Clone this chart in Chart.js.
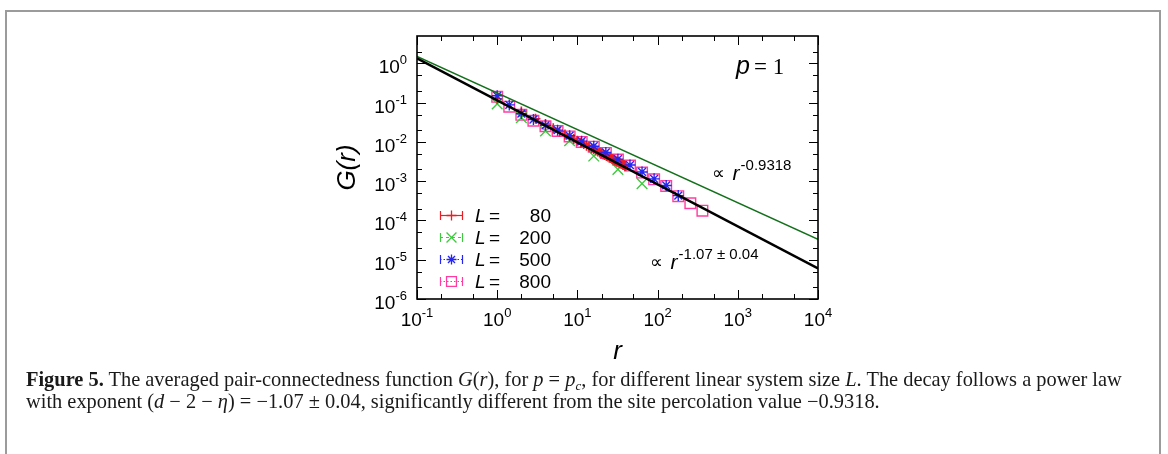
<!DOCTYPE html>
<html><head><meta charset="utf-8">
<script src="https://cdn.jsdelivr.net/npm/chart.js@4.4.0/dist/chart.umd.min.js"></script>
<style>
html,body{margin:0;padding:0;background:#fff;width:1168px;height:454px;overflow:hidden;}
#frame{position:absolute;left:5px;top:10px;width:1152px;height:470px;border:2px solid #9b9b9b;border-bottom:none;}
#wrap{position:absolute;left:0;top:0;width:1168px;height:370px;}
#cap{position:absolute;left:26px;top:368px;white-space:nowrap;font-family:"Liberation Serif",serif;font-size:20.4px;line-height:22px;color:#1a1a1a;}
#cap i{font-style:italic;}
#cap .sb{font-size:13px;position:relative;top:4px;line-height:0;}
</style></head><body>
<div id="frame"></div>
<div id="wrap"><canvas id="c"></canvas></div>
<div id="cap"><b>Figure 5.</b> The averaged pair-connectedness function <i>G</i>(<i>r</i>), for <i>p</i> = <i>p<span class="sb">c</span></i>, for different linear system size <i>L</i>. The decay follows a power law<br>with exponent (<i>d</i> − 2 − <i>η</i>) = −1.07 ± 0.04, significantly different from the site percolation value −0.9318.</div>
<script>
// ---- data ----
const rSteps = [1, 1.414, 2, 2.828, 4, 5.657, 8, 11.31, 16, 22.63, 32, 45.25, 64, 90.51, 128, 181.0, 256, 362.0];
const gL800 = [0.141, 0.0794, 0.0490, 0.0347, 0.0251, 0.0191, 0.0138, 0.0100, 0.00759, 0.00525, 0.00355, 0.00251, 0.00166, 0.00112, 0.000759, 0.000417, 0.000275, 0.000178];
const gL500 = [0.150, 0.0880, 0.0525, 0.0372, 0.0265, 0.0200, 0.0145, 0.0105, 0.0078, 0.0054, 0.00365, 0.00258, 0.00172, 0.00115, 0.00078, 0.00043];
const rL200 = [1, 2, 4, 8, 16, 32, 64];
const gL200 = [0.0933, 0.0417, 0.0191, 0.0107, 0.00437, 0.0020, 0.00087];
const rL80 = [1,2,3,4,5,6,7,8,9,10,11,12,13,14,15,16,17,18,19,20,21,22,23,24,25,26,27,28,29,30,31,32,33,34,35,36,37,38,39,40];
const gL80 = [0.126, 0.060, 0.0389, 0.0288, 0.0224, 0.0186, 0.0156, 0.0137, 0.0119, 0.0108, 0.00960, 0.00885, 0.00805, 0.00752, 0.00690, 0.00652, 0.00603, 0.00575, 0.00536, 0.00514, 0.00480, 0.00465, 0.00436, 0.00424, 0.00398, 0.00389, 0.00366, 0.00360, 0.00339, 0.00334, 0.00315, 0.00312, 0.00295, 0.00293, 0.00277, 0.00275, 0.00260, 0.00259, 0.00246, 0.00245];
const fitR = [0.1, 10000];
const fitFound = [1.35, 6.0e-6];     // ∝ r^-1.07
const fitSite = [1.50, 3.3e-5];      // ∝ r^-0.9318
const legendLabels = ['80', '200', '500', '800'];
const xMajor = [0.1, 1, 10, 100, 1000, 10000];
const xMajorExp = ['-1', '0', '1', '2', '3', '4'];
const xMinor = [0.2, 0.5, 2, 5, 20, 50, 200, 500, 2000, 5000];
const yMajor = [1e-6, 1e-5, 1e-4, 1e-3, 1e-2, 1e-1, 1];
const yMajorExp = ['-6', '-5', '-4', '-3', '-2', '-1', '0'];
const yMinor = [2e-6, 5e-6, 2e-5, 5e-5, 2e-4, 5e-4, 2e-3, 5e-3, 2e-2, 5e-2, 0.2, 0.5, 2];

const C_RED = '#ee1c25', C_GREEN = '#3fc93f', C_BLUE = '#2626f0', C_PINK = '#ff3ca0', C_DKGREEN = '#12701a';
const pts = (xs, ys) => ys.map((v, i) => ({x: xs[i], y: v}));

const SANS = '"Liberation Sans", Arial, sans-serif';

function drawMarker(ctx, style, color, radius, x, y, bw) {
  ctx.save();
  ctx.strokeStyle = color; ctx.fillStyle = 'rgba(0,0,0,0)'; ctx.lineWidth = bw;
  Chart.helpers.drawPoint(ctx, {pointStyle: style, radius: radius, rotation: 0, borderWidth: bw}, x, y);
  ctx.restore();
}

const deco = {
  id: 'deco',
  afterDraw(chart) {
    const ctx = chart.ctx, a = chart.chartArea, xs = chart.scales.x, ys = chart.scales.y;
    ctx.save();
    // frame
    ctx.strokeStyle = '#000'; ctx.lineWidth = 1.6;
    ctx.strokeRect(a.left, a.top, a.right - a.left, a.bottom - a.top);
    // ticks (inward, mirrored)
    ctx.lineWidth = 1;
    const tx = (v, len) => { const p = Math.round(xs.getPixelForValue(v)) + 0.5;
      ctx.beginPath(); ctx.moveTo(p, a.bottom); ctx.lineTo(p, a.bottom - len);
      ctx.moveTo(p, a.top); ctx.lineTo(p, a.top + len); ctx.stroke(); };
    const ty = (v, len) => { const p = Math.round(ys.getPixelForValue(v)) + 0.5;
      ctx.beginPath(); ctx.moveTo(a.left, p); ctx.lineTo(a.left + len, p);
      ctx.moveTo(a.right, p); ctx.lineTo(a.right - len, p); ctx.stroke(); };
    xMajor.forEach(v => tx(v, 9)); xMinor.forEach(v => tx(v, 5));
    yMajor.forEach(v => ty(v, 9)); yMinor.forEach(v => { if (v <= ys.max) ty(v, 5); });
    // tick labels
    ctx.fillStyle = '#000'; ctx.textBaseline = 'alphabetic';
    const baseF = '19px ' + SANS, expF = '13px ' + SANS;
    xMajor.forEach((v, i) => {
      ctx.font = baseF; const w1 = ctx.measureText('10').width;
      ctx.font = expF; const w2 = ctx.measureText(xMajorExp[i]).width;
      const p = xs.getPixelForValue(v); const x0 = p - (w1 + w2) / 2;
      ctx.textAlign = 'left';
      ctx.font = baseF; ctx.fillText('10', x0, a.bottom + 27);
      ctx.font = expF; ctx.fillText(xMajorExp[i], x0 + w1, a.bottom + 18);
    });
    yMajor.forEach((v, i) => {
      ctx.font = expF; const w2 = ctx.measureText(yMajorExp[i]).width;
      ctx.font = baseF; const w1 = ctx.measureText('10').width;
      const p = ys.getPixelForValue(v); const xr = a.left - 10;
      ctx.textAlign = 'left';
      ctx.font = baseF; ctx.fillText('10', xr - w2 - w1, p + 10);
      ctx.font = expF; ctx.fillText(yMajorExp[i], xr - w2, p + 1);
    });
    // axis titles
    ctx.font = 'italic 26px ' + SANS; ctx.textAlign = 'center';
    ctx.fillText('r', (a.left + a.right) / 2, a.bottom + 60);
    ctx.save(); ctx.translate(a.left - 62, (a.top + a.bottom) / 2); ctx.rotate(-Math.PI / 2);
    ctx.fillText('G(r)', 0, 0); ctx.restore();
    // p = 1
    ctx.textAlign = 'left';
    ctx.font = 'italic 25px ' + SANS; ctx.fillText('p', 736, 74);
    ctx.font = '23px "Liberation Serif", serif'; ctx.fillText('= 1', 754, 74);
    // annotations
    const ann = (x, y, expTxt) => {
      ctx.font = '18px "DejaVu Sans", sans-serif'; ctx.fillText('∝', x, y);
      const w0 = ctx.measureText('∝ ').width;
      ctx.font = 'italic 21px ' + SANS; ctx.fillText('r', x + w0 + 2, y + 1);
      const w1 = ctx.measureText('r').width;
      ctx.font = '15px ' + SANS; ctx.fillText(expTxt, x + w0 + w1 + 3, y - 9);
    };
    ann(712, 179, '-0.9318');
    ann(650, 268, '-1.07 ± 0.04');
    // legend
    const rows = [
      {c: C_RED, dash: [], st: 'cross', r: 5},
      {c: C_GREEN, dash: [3, 3], st: 'crossRot', r: 7},
      {c: C_BLUE, dash: [1.5, 2], st: 'star', r: 5},
      {c: C_PINK, dash: [1.5, 2], st: 'rect', r: 7},
    ];
    rows.forEach((row, i) => {
      const y = 215 + i * 22, x1 = 440, x2 = 463;
      ctx.save(); ctx.strokeStyle = row.c; ctx.lineWidth = 1.2; ctx.setLineDash(row.dash);
      ctx.beginPath(); ctx.moveTo(x1, y + 0.5); ctx.lineTo(x2, y + 0.5); ctx.stroke();
      ctx.setLineDash([]);
      ctx.beginPath(); ctx.moveTo(x1 + 0.5, y - 4); ctx.lineTo(x1 + 0.5, y + 5);
      ctx.moveTo(x2 - 0.5, y - 4); ctx.lineTo(x2 - 0.5, y + 5); ctx.stroke();
      ctx.restore();
      drawMarker(ctx, row.st, row.c, row.r, (x1 + x2) / 2, y + 0.5, 1.3);
      ctx.fillStyle = '#000';
      ctx.textAlign = 'left';
      ctx.font = 'italic 19px ' + SANS; ctx.fillText('L', 475, y + 7);
      ctx.font = '19px ' + SANS; ctx.fillText('=', 489, y + 7);
      ctx.textAlign = 'right'; ctx.fillText(legendLabels[i], 551, y + 7);
    });
    ctx.restore();
  }
};

new Chart(document.getElementById('c'), {
  type: 'scatter',
  data: {
    datasets: [
      {label: 'fit', type: 'line', data: pts(fitR, fitFound), borderColor: '#000', borderWidth: 2.6, pointRadius: 0, order: 0},
      {label: 'site', type: 'line', data: pts(fitR, fitSite), borderColor: C_DKGREEN, borderWidth: 1.5, pointRadius: 0, order: 0},
      {label: 'L = 500', data: pts(rSteps, gL500), pointStyle: 'star', pointRadius: 5.5, borderColor: C_BLUE, backgroundColor: C_BLUE, pointBorderWidth: 1.4, order: 1},
      {label: 'L = 80', data: pts(rL80, gL80), pointStyle: 'cross', pointRadius: 5, borderColor: C_RED, backgroundColor: C_RED, pointBorderWidth: 1.6, order: 2},
      {label: 'L = 200', data: pts(rL200, gL200), pointStyle: 'crossRot', pointRadius: 7.5, borderColor: C_GREEN, backgroundColor: C_GREEN, pointBorderWidth: 1.4, order: 3},
      {label: 'L = 800', data: pts(rSteps, gL800), pointStyle: 'rect', pointRadius: 7.5, borderColor: C_PINK, backgroundColor: 'rgba(0,0,0,0)', pointBorderWidth: 1.4, order: 4},
    ]
  },
  options: {
    responsive: true, maintainAspectRatio: false, animation: false,
    layout: {padding: {left: 417, right: 350, top: 36, bottom: 71}},
    plugins: {legend: {display: false}, tooltip: {enabled: false}},
    scales: {
      x: {type: 'logarithmic', min: 0.1, max: 10000, display: false},
      y: {type: 'logarithmic', min: 1e-6, max: 5, display: false}
    }
  },
  plugins: [deco]
});
</script>
</body></html>
